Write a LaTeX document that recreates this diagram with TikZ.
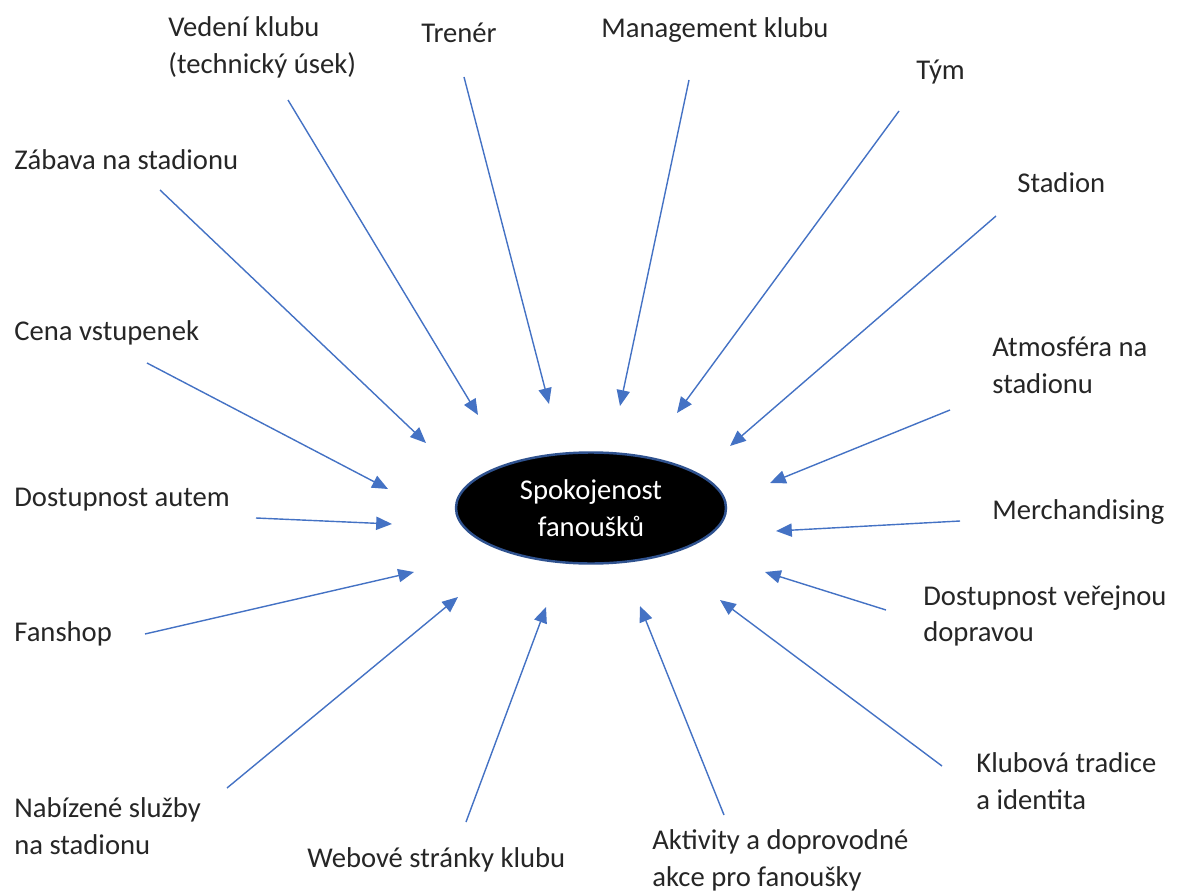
\documentclass[tikz,border=0pt]{standalone}
\usepackage{fontspec}
\setmainfont{Carlito}
\usepackage{tikz}
\usetikzlibrary{positioning,arrows.meta,shapes.geometric}
\definecolor{arrowblue}{RGB}{68,114,196}
\definecolor{rimblue}{RGB}{47,82,143}
\definecolor{textgray}{RGB}{38,38,38}

\begin{document}
\begin{tikzpicture}[x=0.02cm,y=-0.02cm,
  lab/.style={anchor=west,inner sep=0pt,align=left,text=textgray,
              font=\fontsize{16.3}{21}\selectfont},
  core/.style={ellipse,draw=rimblue,line width=1.4pt,fill=black,text=white,
               minimum width=270*0.02cm,minimum height=111*0.02cm,align=center,
               inner sep=0pt,font=\fontsize{16.3}{21}\selectfont},
  infl/.style={draw=arrowblue,line width=0.8pt,-{Triangle[length=9pt,width=7.5pt]}}]
  \useasboundingbox (0,0) rectangle (1179,895);
  \node[core] (sat) at (591,508) {Spokojenost\\fanoušků};
  % labels
  \node[lab] (vedeni) at (168,47) {Vedení klubu\\(technický úsek)};
  \node[lab] (trener) at (421,33) {Trenér};
  \node[lab] (mgmt)   at (601,30) {Management klubu};
  \node[lab] (tym)    at (916,72) {Tým};
  \node[lab] (stad)   at (1017,183) {Stadion};
  \node[lab] (zabava) at (14,160) {Zábava na stadionu};
  \node[lab] (cena)   at (14,333) {Cena vstupenek};
  \node[lab] (atmo)   at (992,365) {Atmosféra na\\stadionu};
  \node[lab] (auto)   at (14,500) {Dostupnost autem};
  \node[lab] (merch)  at (992,512) {Merchandising};
  \node[lab] (fshop)  at (14,634) {Fanshop};
  \node[lab] (mhd)    at (923,616) {Dostupnost veřejnou\\dopravou};
  \node[lab] (trad)   at (976,781) {Klubová tradice\\a identita};
  \node[lab] (sluzby) at (14,826) {Nabízené služby\\na stadionu};
  \node[lab] (web)    at (307,860) {Webové stránky klubu};
  \node[lab] (akce)   at (652,860) {Aktivity a doprovodné\\akce pro fanoušky};
  % arrow ends
  \coordinate (vedeni-s) at (288,100);  \coordinate (vedeni-e) at (478,415);
  \coordinate (trener-s) at (464,77);   \coordinate (trener-e) at (549,404);
  \coordinate (mgmt-s)   at (689,80);   \coordinate (mgmt-e)   at (620,406);
  \coordinate (tym-s)    at (899,111);  \coordinate (tym-e)    at (677,413);
  \coordinate (stad-s)   at (996,216);  \coordinate (stad-e)   at (730,446);
  \coordinate (atmo-s)   at (950,410);  \coordinate (atmo-e)   at (770,483);
  \coordinate (merch-s)  at (960,521);  \coordinate (merch-e)  at (776,531);
  \coordinate (mhd-s)    at (886,610);  \coordinate (mhd-e)    at (765,572);
  \coordinate (trad-s)   at (942,766);  \coordinate (trad-e)   at (720,600);
  \coordinate (akce-s)   at (724,815);  \coordinate (akce-e)   at (640,606);
  \coordinate (web-s)    at (466,822);  \coordinate (web-e)    at (546,607);
  \coordinate (sluzby-s) at (227,788);  \coordinate (sluzby-e) at (458,597);
  \coordinate (fshop-s)  at (145,634);  \coordinate (fshop-e)  at (414,572);
  \coordinate (auto-s)   at (256,518);  \coordinate (auto-e)   at (392,524);
  \coordinate (cena-s)   at (147,363);  \coordinate (cena-e)   at (388,489);
  \coordinate (zabava-s) at (160,190);  \coordinate (zabava-e) at (426,443);
  \draw[infl] (vedeni-s) -- (vedeni-e);
  \draw[infl] (trener-s) -- (trener-e);
  \draw[infl] (mgmt-s) -- (mgmt-e);
  \draw[infl] (tym-s) -- (tym-e);
  \draw[infl] (stad-s) -- (stad-e);
  \draw[infl] (atmo-s) -- (atmo-e);
  \draw[infl] (merch-s) -- (merch-e);
  \draw[infl] (mhd-s) -- (mhd-e);
  \draw[infl] (trad-s) -- (trad-e);
  \draw[infl] (akce-s) -- (akce-e);
  \draw[infl] (web-s) -- (web-e);
  \draw[infl] (sluzby-s) -- (sluzby-e);
  \draw[infl] (fshop-s) -- (fshop-e);
  \draw[infl] (auto-s) -- (auto-e);
  \draw[infl] (cena-s) -- (cena-e);
  \draw[infl] (zabava-s) -- (zabava-e);
\end{tikzpicture}
\end{document}
